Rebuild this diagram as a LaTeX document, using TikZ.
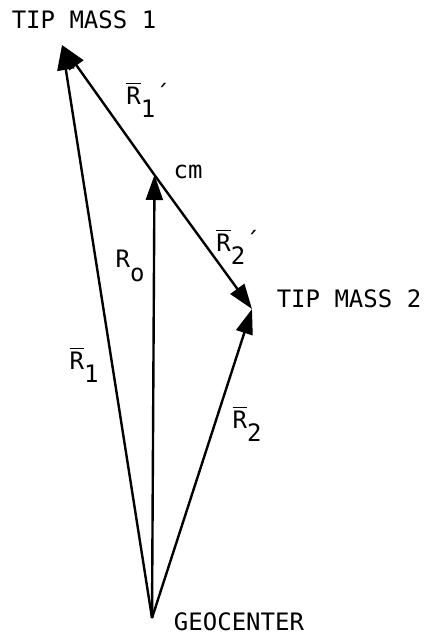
\documentclass[tikz,border=0pt]{standalone}
\usepackage{fontspec}
\setmainfont{DejaVu Sans Mono}
\usetikzlibrary{arrows.meta}

% vector labels: barred R with dropped subscript
\newcommand{\barR}[1]{$\overline{\hbox{R}}$\raisebox{-0.55em}{#1}}
\newcommand{\barRp}[1]{\barR{#1}\raisebox{0.1ex}{´}}

\tikzset{
    vec/.style={line width=1.2pt, -{Triangle[length=12.5pt,width=8.5pt]}},
    lbl/.style={font=\fontsize{12}{14}\selectfont, inner sep=0pt},
}

\begin{document}
\begin{tikzpicture}[x=0.5pt,y=-0.5pt]
\useasboundingbox (0,0) rectangle (425,637);

    \coordinate (geo)    at (152,618);
    \coordinate (tipone) at (62,45);
    \coordinate (tiptwo) at (252,309);
    \coordinate (cm)     at (154.5,175);

    \draw[vec] (geo) -- (tipone);
    \draw[vec] (cm)  -- (tipone);
    \draw[vec] (cm)  -- (tiptwo);
    \draw[vec] (geo) -- (tiptwo);
    \draw[vec] (geo) -- (cm);

    \node[lbl] (tiponelbl) at (84,20)   {TIP MASS 1};
    \node[lbl] (tiptwolbl) at (349,299) {TIP MASS 2};
    \node[lbl] (geolbl)    at (239,622) {GEOCENTER};
    \node[lbl] (cmlbl)     at (188,172) {cm};

    \node[lbl] (roneplbl)  at (148,100) {\barRp{1}};
    \node[lbl] (rtwoplbl)  at (238,247) {\barRp{2}};
    \node[lbl] (rolbl)     at (130,266) {R\raisebox{-0.55em}{o}};
    \node[lbl] (ronelbl)   at (84,365)  {\barR{1}};
    \node[lbl] (rtwolbl)   at (247,424) {\barR{2}};
\end{tikzpicture}
\end{document}
